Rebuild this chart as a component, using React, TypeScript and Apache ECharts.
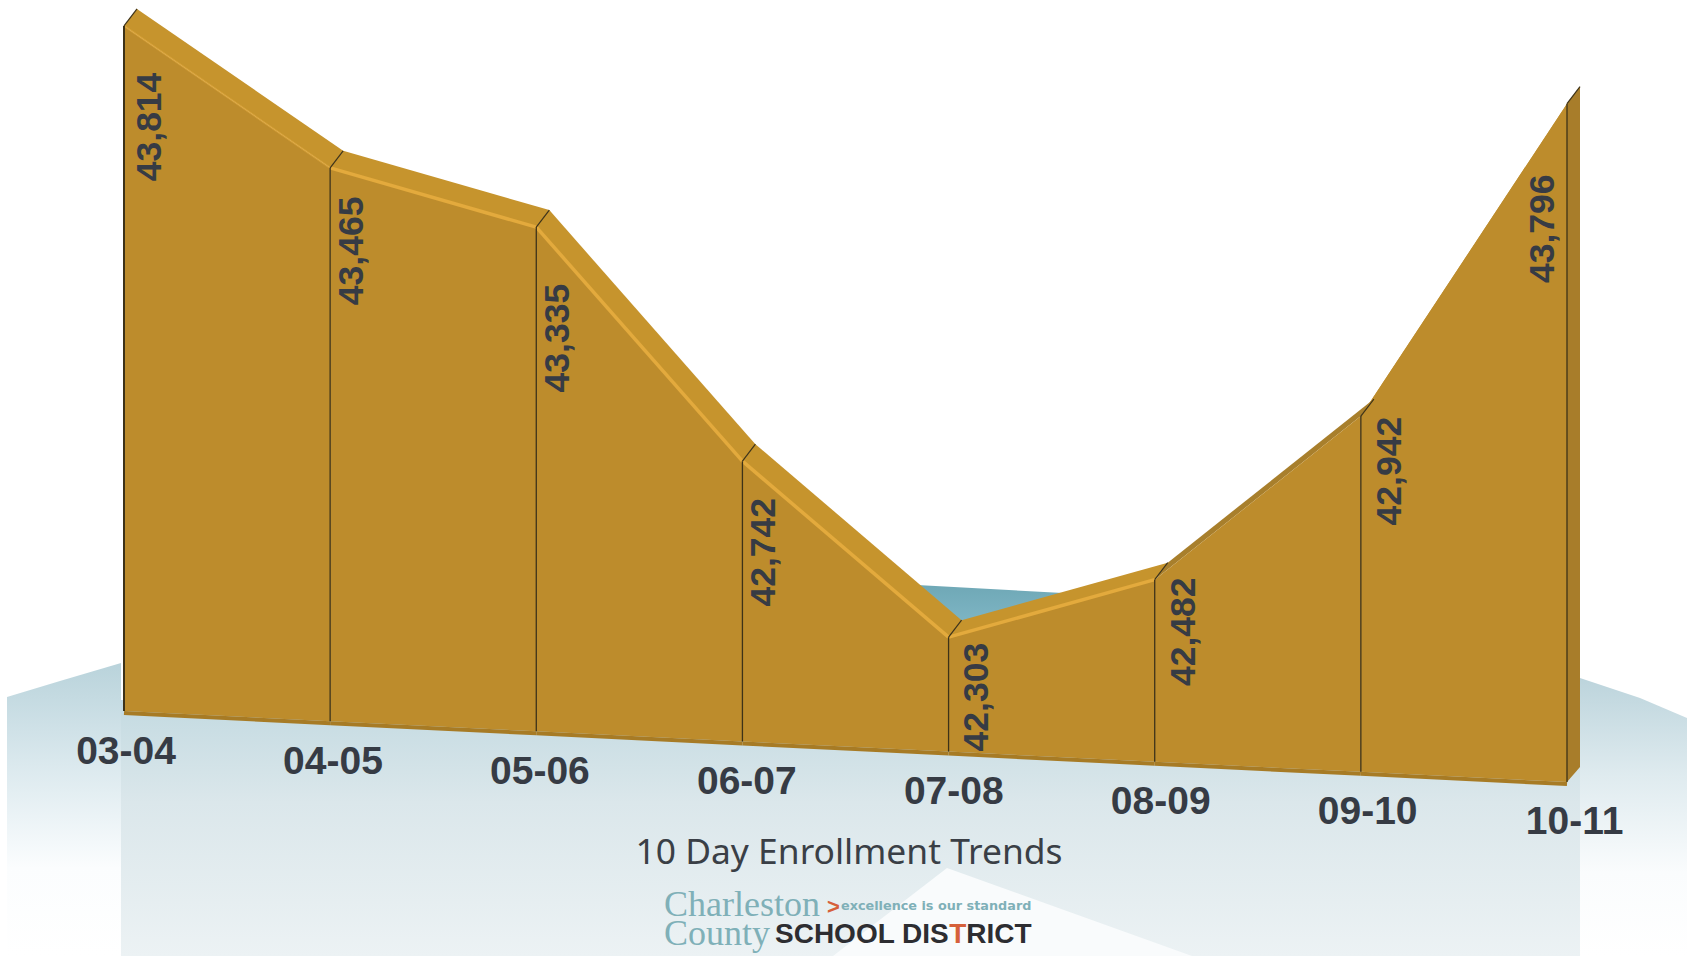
import React, { useEffect, useRef } from "react";
import * as echarts from "echarts";

const schoolYears = ["03-04", "04-05", "05-06", "06-07", "07-08", "08-09", "09-10", "10-11"];
const enrollment = [43814, 43465, 43335, 42742, 42303, 42482, 42942, 43796];
const chartTitle = "10 Day Enrollment Trends";
const axisFloor = 42000;
const axisCeil = 43880;

const LABEL_NUDGE = [[25, 101], [21, 83], [21, 111], [21, 91], [27, 60], [28, 52], [28, 55], [-25, 125]];
const SHEAR = 0.0492;
const LEFT = 124;
const DEPTH_X = 13;
const DEPTH_Y = -17;
const FRONT = "#bd8c2c";
const TOP_LIGHT = "#c6942d";
const TOP_DARK = "#a87f2c";
const HIGHLIGHT = "#e3aa3d";
const EDGE = "#3d3218";
const INK = "#363b44";

function renderItem(params: any, api: any) {
  const i = params.dataIndex;
  const project = (idx: number, v: number) => {
    const p = api.coord([idx, v]);
    return [p[0], p[1] + (p[0] - LEFT) * SHEAR];
  };
  const a = project(i, enrollment[i]);
  const a0 = project(i, axisFloor);
  const last = i === enrollment.length - 1;
  const children: any[] = [];

  if (!last) {
    const b = project(i + 1, enrollment[i + 1]);
    const b0 = project(i + 1, axisFloor);
    const topFill = i === 5 ? TOP_DARK : i === 6 ? FRONT : TOP_LIGHT;
    children.push({
      type: "polygon",
      shape: { points: [a, [a[0] + DEPTH_X, a[1] + DEPTH_Y], [b[0] + DEPTH_X, b[1] + DEPTH_Y], b] },
      style: { fill: topFill },
    });
    children.push({
      type: "polygon",
      shape: { points: [a, b, b0, a0] },
      style: { fill: FRONT },
    });
    children.push({
      type: "line",
      shape: { x1: a0[0], y1: a0[1] + 2, x2: b0[0], y2: b0[1] + 2 },
      style: { stroke: "#a77b25", lineWidth: 4 },
    });
    if (i < 5) {
      children.push({
        type: "line",
        shape: { x1: a[0], y1: a[1], x2: b[0], y2: b[1] },
        style: { stroke: HIGHLIGHT, lineWidth: i === 0 ? 2 : 3.5, opacity: i === 0 ? 0.55 : 1 },
      });
    }
  } else {
    children.push({
      type: "polygon",
      shape: {
        points: [a, [a[0] + DEPTH_X, a[1] + DEPTH_Y], [a[0] + DEPTH_X, a0[1] - 15], [a[0], a0[1]]],
      },
      style: { fill: "#a87d2a" },
    });
  }

  children.push({
    type: "line",
    shape: { x1: a[0], y1: a[1], x2: a0[0], y2: a0[1] },
    style: { stroke: EDGE, lineWidth: i === 0 ? 2 : 1.3 },
  });
  children.push({
    type: "line",
    shape: { x1: a[0], y1: a[1], x2: a[0] + DEPTH_X, y2: a[1] + DEPTH_Y },
    style: { stroke: EDGE, lineWidth: 1.2 },
  });
  return { type: "group", children };
}

function renderLabels(params: any, api: any) {
  const i = params.dataIndex;
  const p = api.coord([i, enrollment[i]]);
  const p0 = api.coord([i, axisFloor]);
  const shift = (p[0] - LEFT) * SHEAR;
  return {
    type: "group",
    children: [
      {
        type: "text",
        x: p[0] + LABEL_NUDGE[i][0],
        y: p[1] + shift + LABEL_NUDGE[i][1],
        rotation: Math.PI / 2,
        style: {
          text: enrollment[i].toLocaleString("en-US"),
          fill: INK,
          font: "bold 35.5px 'Liberation Sans'",
          align: "center",
          verticalAlign: "middle",
        },
      },
      {
        type: "text",
        x: p0[0] + 2 + i * 0.8,
        y: p0[1] + shift + 39,
        style: {
          text: schoolYears[i],
          fill: INK,
          font: "bold 39px 'Liberation Sans'",
          align: "center",
          verticalAlign: "middle",
        },
      },
    ],
  };
}

const vGrad = (stops: [number, string][]) => ({
  type: "linear",
  x: 0,
  y: 0,
  x2: 0,
  y2: 1,
  colorStops: stops.map(([offset, color]) => ({ offset, color })),
});

export default function App() {
  const ref = useRef<HTMLDivElement>(null);
  useEffect(() => {
    const chart = echarts.init(ref.current!, undefined, { renderer: "svg" });
    const idx = enrollment.map((v, i) => [i, v]);
    chart.setOption({
      animation: false,
      backgroundColor: "#ffffff",
      title: {
        text: chartTitle,
        left: 844,
        top: 845,
        textAlign: "center",
        textVerticalAlign: "middle",
        textStyle: { fontFamily: "Noto Sans", fontWeight: "normal", fontSize: 35.4, color: "#3a3f46" },
      },
      grid: { left: LEFT, right: 127, top: 1, bottom: 245 },
      xAxis: { type: "category", data: schoolYears, boundaryGap: false, show: false },
      yAxis: { type: "value", min: axisFloor, max: axisCeil, show: false },
      graphic: [
        {
          type: "polygon",
          shape: { points: [[7, 956], [7, 697], [60, 681], [121, 663], [121, 956]] },
          style: { fill: vGrad([[0, "#b9d3db"], [0.35, "#dbe9ee"], [0.7, "#fbfdfe"], [1, "#ffffff"]]) },
        },
        {
          type: "polygon",
          shape: { points: [[1580, 678], [1640, 698], [1687, 718], [1687, 956], [1580, 956]] },
          style: { fill: vGrad([[0, "#bcd4dc"], [0.35, "#dfebef"], [0.7, "#fafcfd"], [1, "#ffffff"]]) },
        },
        {
          type: "rect",
          shape: { x: 121, y: 700, width: 1459, height: 256 },
          style: { fill: vGrad([[0, "#c3dae1"], [0.4, "#dbe7eb"], [1, "#ecf2f4"]]) },
        },
        {
          type: "polygon",
          shape: { points: [[947, 868], [1192, 956], [833, 956]] },
          style: { fill: "#f9fbfc" },
        },
        {
          type: "polygon",
          shape: { points: [[917, 585], [1063, 593], [961, 625]] },
          style: { fill: vGrad([[0, "#6fa8b6"], [1, "#7fb6c5"]]) },
        },
        {
          type: "text",
          x: 664,
          y: 918,
          style: {
            text: "Charleston\nCounty",
            fill: "#7fb0b8",
            font: "36px 'Liberation Serif'",
            lineHeight: 29,
            verticalAlign: "middle",
            align: "left",
          },
        },
        {
          type: "text",
          x: 827,
          y: 906,
          style: { text: ">", fill: "#d6603a", font: "bold 22px 'Liberation Sans'", verticalAlign: "middle", align: "left" },
        },
        {
          type: "text",
          x: 841,
          y: 905,
          style: { text: "excellence is our standard", fill: "#7fb0b8", font: "bold 12.8px 'DejaVu Sans'", verticalAlign: "middle", align: "left" },
        },
        {
          type: "text",
          x: 775,
          y: 933,
          style: {
            text: "{d|SCHOOL DIS}{o|T}{d|RICT}",
            verticalAlign: "middle",
            align: "left",
            rich: {
              d: { fill: "#2d2d31", font: "bold 28px 'Liberation Sans'" },
              o: { fill: "#d6603a", font: "bold 28px 'Liberation Sans'" },
            },
          },
        },
      ],
      series: [
        {
          type: "custom",
          coordinateSystem: "cartesian2d",
          data: idx,
          clip: false,
          renderItem,
          encode: { x: 0, y: 1 },
          z: 2,
        },
        {
          type: "custom",
          coordinateSystem: "cartesian2d",
          data: idx,
          clip: false,
          renderItem: renderLabels,
          encode: { x: 0, y: 1 },
          z: 3,
        },
      ],
    });
    return () => chart.dispose();
  }, []);
  return <div ref={ref} style={{ position: "fixed", left: 0, top: 0, width: 1694, height: 956 }} />;
}
